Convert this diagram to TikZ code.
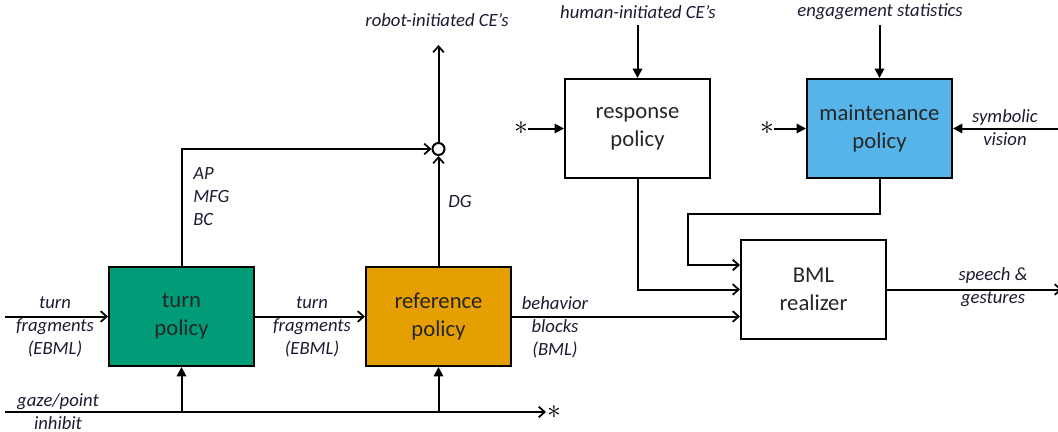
\documentclass[tikz,border=0pt]{standalone}
\usepackage{fontspec}
\setmainfont{Carlito}
\usetikzlibrary{arrows.meta}
\definecolor{turngreen}{RGB}{0,155,119}
\definecolor{reforange}{RGB}{230,159,0}
\definecolor{maintblue}{RGB}{86,180,233}
\definecolor{labelink}{RGB}{28,28,48}
\begin{document}
\begin{tikzpicture}[x=0.75pt,y=-0.75pt,
  policy/.style={draw=black, line width=1.5pt, minimum width=108.75pt,
    minimum height=74.25pt, align=center, inner sep=0pt,
    font=\fontsize{17}{21}\selectfont, text=black!85},
  lbl/.style={font=\itshape\fontsize{14}{17.25}\selectfont, text=labelink,
    align=center, inner sep=0pt},
  wire/.style={line width=1.5pt},
  barb/.style={-{Straight Barb[length=4.5pt,width=8pt,line width=1.3pt]}},
  tip/.style={-{Triangle[length=7pt,width=7pt]}},
  junction/.style={circle, draw=black, line width=1.5pt, fill=white,
    minimum size=9pt, inner sep=0pt},
  starnode/.style={inner sep=0pt, font=\fontsize{20}{20}\selectfont}]
\useasboundingbox (0,0) rectangle (1058,432);

% processing blocks
\node[policy, fill=turngreen] (turn) at (181.5,316.5) {turn\\policy};
\node[policy, fill=reforange] (ref) at (438.5,316.5) {reference\\policy};
\node[policy, fill=white] (resp) at (637.5,128.5) {response\\policy};
\node[policy, fill=maintblue] (maint) at (879.5,128.5) {maintenance\\policy};
\node[policy, fill=white] (bml) at (813.5,289.5) {BML\\realizer};

% merge point for communicative events
\node[junction] (junc) at (438.5,149) {};

% free ends
\coordinate (inL) at (5,316.5);
\coordinate (gazeL) at (5,412);
\coordinate (gazeEnd) at (546,412);
\coordinate (robotEnd) at (438.5,45);
\coordinate (humanTop) at (637.5,25);
\coordinate (engTop) at (879.5,25);
\coordinate (visR) at (1062,128.5);
\coordinate (outR) at (1062,289.5);
\coordinate (mBend) at (688,214);
\coordinate (mIn) at (688,265);

% star sources
\node[starnode] (star1) at (521,128.5) {$\ast$};
\node[starnode] (star2) at (767,128.5) {$\ast$};
\node[starnode] (star3) at (554,412) {$\ast$};

% labels
\node[lbl] (robot) at (437,20) {robot-initiated CE’s};
\node[lbl] (human) at (638,12) {human-initiated CE’s};
\node[lbl] (eng) at (880,12) {engagement statistics};
\node[lbl] (turnin) at (55,327) {turn\\fragments\\(EBML)};
\node[lbl] (turnout) at (312,327) {turn\\fragments\\(EBML)};
\node[lbl] (blocks) at (555,327) {behavior\\blocks\\(BML)};
\node[lbl] (speech) at (993,287) {speech \&\\gestures};
\node[lbl] (symb) at (1005,128) {symbolic\\vision};
\node[lbl] (gaze) at (58,411.5) {gaze/point\\inhibit};
\node[lbl, align=left, anchor=west] (acts) at (193,197) {AP\\MFG\\BC};
\node[lbl] (dg) at (460,202) {DG};

% connectors
\draw[wire, barb] (inL) -- (turn.west);
\draw[wire, barb] (turn.east) -- (ref.west);
\draw[wire, barb] (turn.north) |- (junc.west);
\draw[wire, barb] (ref.north) -- (junc.south);
\draw[wire, barb] (junc.north) -- (robotEnd);
\draw[wire, tip] (humanTop) -- (resp.north);
\draw[wire, tip] (engTop) -- (maint.north);
\draw[wire, tip] (star1.east) -- (resp.west);
\draw[wire, tip] (star2.east) -- (maint.west);
\draw[wire, tip] (visR) -- (maint.east);
\draw[wire, barb] (maint.south) |- (mBend) -- (mIn) -- (mIn -| bml.west);
\draw[wire, barb] (resp.south) |- (bml.west);
\draw[wire, barb] (ref.east) -- (ref.east -| bml.west);
\draw[wire, barb] (bml.east) -- (outR);
\draw[wire, barb] (gazeL) -- (gazeEnd);
\draw[wire, tip] (turn.south |- gazeL) -- (turn.south);
\draw[wire, tip] (ref.south |- gazeL) -- (ref.south);
\end{tikzpicture}
\end{document}
